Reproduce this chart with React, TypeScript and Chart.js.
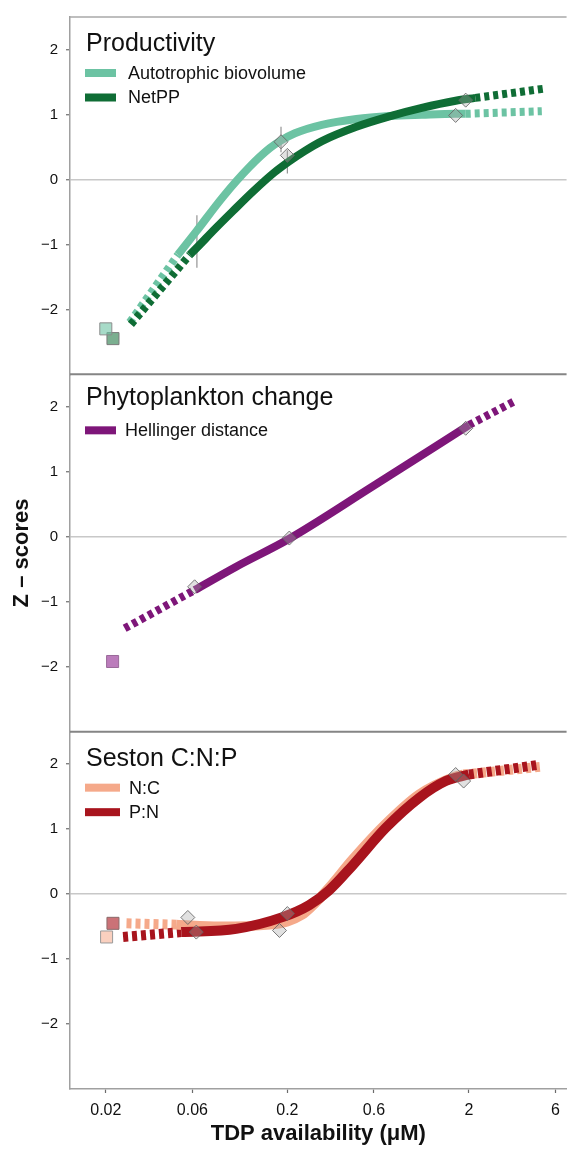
import { useEffect, useRef } from 'react';
import { Chart, registerables } from 'chart.js';

Chart.register(...registerables);

type Pt = [number, number];
type Bar = [number, number, number];

// Axes
const X_TICKS = [0.02, 0.06, 0.2, 0.6, 2, 6];
const Y_TICKS = [-2, -1, 0, 1, 2];
const X_MIN = 0.0127;
const X_MAX = 6.9;
const Y_MIN = -3;
const Y_MAX = 2.5;
const X_TITLE = 'TDP availability (μM)';
const Y_TITLE = 'Z – scores';

// Panel headings and legend labels
const PANEL_TITLES = ['Productivity', 'Phytoplankton change', 'Seston C:N:P'];
const PRODUCTIVITY_LABELS = ['Autotrophic biovolume', 'NetPP'];
const PHYTO_LABELS = ['Hellinger distance'];
const SESTON_LABELS = ['N:C', 'P:N'];

// Productivity: autotrophic biovolume
const autotrophicFit: Pt[] = [
  [0.0499, -1.16], [0.063, -0.8], [0.0883, -0.27], [0.1236, 0.19], [0.16, 0.48],
  [0.185, 0.6], [0.22, 0.71], [0.31, 0.84], [0.48, 0.93], [0.73, 0.975],
  [1.1, 0.995], [1.69, 1.01], [1.92, 1.01],
];
const autotrophicLow: Pt[] = [[0.0271, -2.2], [0.0499, -1.16]];
const autotrophicHigh: Pt[] = [[1.92, 1.01], [5.04, 1.05]];
const autotrophicTreat: Pt[] = [[0.1845, 0.58], [1.69, 0.985]];
const autotrophicControl: Pt[] = [[0.02, -2.3]];

// Productivity: net primary production
const netppFit: Pt[] = [
  [0.058, -1.16], [0.0635, -1.05], [0.08, -0.76], [0.1, -0.49], [0.13, -0.18],
  [0.17, 0.11], [0.205, 0.28], [0.25, 0.44], [0.31, 0.59], [0.48, 0.81],
  [0.73, 0.97], [1.1, 1.1], [1.69, 1.21], [2.17, 1.255],
];
const netppLow: Pt[] = [[0.0275, -2.23], [0.058, -1.16]];
const netppHigh: Pt[] = [[2.17, 1.255], [5.3, 1.4]];
const netppTreat: Pt[] = [[0.2, 0.37], [1.92, 1.22]];
const netppControl: Pt[] = [[0.0219, -2.45]];

// Productivity error bars: [x, low, high]
const productivityBars: Bar[] = [[0.0635, -1.36, -0.55], [0.1845, 0.42, 0.81], [0.2, 0.09, 0.45]];

// Phytoplankton change: Hellinger distance
const hellingerFit: Pt[] = [[0.0617, -0.82], [0.1045, -0.46], [0.205, -0.03], [0.564, 0.74], [2.0, 1.72]];
const hellingerLow: Pt[] = [[0.0254, -1.41], [0.0617, -0.82]];
const hellingerHigh: Pt[] = [[2.0, 1.72], [3.53, 2.08]];
const hellingerTreat: Pt[] = [[0.0617, -0.77], [0.205, -0.02], [1.92, 1.67]];
const hellingerControl: Pt[] = [[0.0218, -1.92]];

// Seston C:N:P: N:C
const ncFit: Pt[] = [
  [0.0488, -0.47], [0.0845, -0.5], [0.159, -0.47], [0.2, -0.42], [0.24, -0.32],
  [0.27, -0.2], [0.34, 0.1], [0.457, 0.53], [0.697, 1.08], [1.062, 1.53],
  [1.69, 1.81], [1.86, 1.84],
];
const ncLow: Pt[] = [[0.026, -0.45], [0.0488, -0.47]];
const ncHigh: Pt[] = [[1.86, 1.84], [5.0, 1.96]];
const ncTreat: Pt[] = [[0.0566, -0.36], [0.181, -0.56], [1.69, 1.84]];
const ncControl: Pt[] = [[0.0202, -0.66]];

// Seston C:N:P: P:N
const pnFit: Pt[] = [
  [0.0521, -0.585], [0.1045, -0.535], [0.188, -0.355], [0.264, -0.17], [0.34, 0.06],
  [0.457, 0.44], [0.697, 1.02], [1.062, 1.48], [1.49, 1.74], [2.0, 1.84],
];
const pnLow: Pt[] = [[0.0249, -0.66], [0.0521, -0.585]];
const pnHigh: Pt[] = [[2.0, 1.84], [4.85, 1.99]];
const pnTreat: Pt[] = [[0.063, -0.585], [0.2, -0.3], [1.87, 1.74]];
const pnControl: Pt[] = [[0.0219, -0.45]];

const FONT = '"Liberation Sans", Arial, Helvetica, sans-serif';
const INK = '#111111';

const COLOR = {
  autotrophic: '#6cc3a3',
  netpp: '#0f6d35',
  hellinger: '#7e1679',
  nc: '#f5a98a',
  pn: '#a8141d',
};

const pts = (a: Pt[]) => a.map(([x, y]) => ({ x, y }));

const fitLine = (data: Pt[], color: string, yAxisID: string, width: number, order: number) => ({
  data: pts(data),
  borderColor: color,
  backgroundColor: color,
  borderWidth: width,
  borderCapStyle: 'butt',
  pointRadius: 0,
  cubicInterpolationMode: 'monotone',
  fill: false,
  yAxisID,
  order,
});

const dashLine = (data: Pt[], color: string, yAxisID: string, width: number, order: number) => ({
  data: pts(data),
  borderColor: color,
  backgroundColor: color,
  borderWidth: width,
  borderDash: [5, 4],
  borderCapStyle: 'butt',
  pointRadius: 0,
  tension: 0,
  fill: false,
  yAxisID,
  order,
});

const treatMarks = (data: Pt[], yAxisID: string, order: number) => ({
  data: pts(data),
  showLine: false,
  pointStyle: 'rectRot',
  pointRadius: 7,
  pointBackgroundColor: 'rgba(170,170,170,0.35)',
  pointBorderColor: 'rgba(100,100,100,0.85)',
  pointBorderWidth: 1,
  yAxisID,
  order,
});

const controlMarks = (data: Pt[], fill: string, stroke: string, yAxisID: string, order: number) => ({
  data: pts(data),
  showLine: false,
  pointStyle: 'rect',
  pointRadius: 8.5,
  pointBackgroundColor: fill,
  pointBorderColor: stroke,
  pointBorderWidth: 1,
  yAxisID,
  order,
});

const errorBars = (bars: Bar[], yAxisID: string, order: number) => ({
  data: bars.flatMap(([x, lo, hi]) => [{ x, y: lo }, { x, y: hi }, { x, y: null }]),
  borderColor: 'rgba(120,120,120,0.8)',
  borderWidth: 1.2,
  pointRadius: 0,
  spanGaps: false,
  fill: false,
  yAxisID,
  order,
});

const LEGENDS = [
  [
    { label: PRODUCTIVITY_LABELS[0], color: COLOR.autotrophic },
    { label: PRODUCTIVITY_LABELS[1], color: COLOR.netpp },
  ],
  [{ label: PHYTO_LABELS[0], color: COLOR.hellinger }],
  [
    { label: SESTON_LABELS[0], color: COLOR.nc },
    { label: SESTON_LABELS[1], color: COLOR.pn },
  ],
];

// Per-panel placement of heading and legend rows
const PANEL_LAYOUT = [
  { titleDy: 34, swatchW: 31, textX: 128 },
  { titleDy: 31, swatchW: 31, textX: 125 },
  { titleDy: 34, swatchW: 35, textX: 129 },
];

const PANEL_AXES = ['y1', 'y2', 'y3'];

const panelDecor = {
  id: 'panelDecor',
  afterDraw(chart: any) {
    const { ctx, chartArea } = chart;
    const hline = (y: number, color: string, w: number) => {
      ctx.beginPath();
      ctx.strokeStyle = color;
      ctx.lineWidth = w;
      ctx.moveTo(chartArea.left, y);
      ctx.lineTo(chartArea.right, y);
      ctx.stroke();
    };
    ctx.save();
    hline(chartArea.top, '#a8a8a8', 1.5);
    hline(chart.scales.y1.bottom, '#858585', 2);
    hline(chart.scales.y2.bottom, '#858585', 2);

    PANEL_AXES.forEach((id, i) => {
      const s = chart.scales[id];
      const lay = PANEL_LAYOUT[i];
      ctx.fillStyle = INK;
      ctx.font = `25px ${FONT}`;
      ctx.textAlign = 'left';
      ctx.textBaseline = 'alphabetic';
      ctx.fillText(PANEL_TITLES[i], chartArea.left + 16, s.top + lay.titleDy);

      LEGENDS[i].forEach((item, j) => {
        const yc = s.top + 56 + j * 24.5;
        ctx.fillStyle = item.color;
        ctx.fillRect(chartArea.left + 15, yc - 4, lay.swatchW, 8);
        ctx.fillStyle = INK;
        ctx.font = `18px ${FONT}`;
        ctx.textBaseline = 'middle';
        ctx.fillText(item.label, lay.textX, yc + 1);
      });
    });
    ctx.restore();
  },
};

const fmtY = (v: number) => (v < 0 ? '\u2212' + Math.abs(v) : String(v));

const yAxis = (i: number) => ({
  type: 'linear',
  position: 'left',
  stack: 'panels',
  stackWeight: 1,
  weight: 3 - i,
  min: Y_MIN,
  max: Y_MAX,
  afterBuildTicks: (s: any) => {
    s.ticks = Y_TICKS.map((value) => ({ value }));
  },
  afterFit: (s: any) => {
    s.width = 70;
  },
  ticks: {
    font: { family: FONT, size: 15 },
    color: INK,
    padding: 8,
    callback: (v: any) => fmtY(Number(v)),
  },
  grid: {
    color: (c: any) => (c.tick && c.tick.value === 0 ? '#c8c8c8' : 'rgba(0,0,0,0)'),
    lineWidth: 1.5,
    tickColor: '#6b6b6b',
    tickLength: 4,
    tickWidth: 1.2,
  },
  border: { display: true, color: '#a0a0a0', width: 1.5 },
  title:
    i === 1
      ? {
          display: true,
          text: Y_TITLE,
          color: INK,
          font: { family: FONT, size: 22, weight: 'bold' },
          padding: { top: 9, bottom: 0 },
        }
      : { display: false },
});

export default function App() {
  const ref = useRef<HTMLCanvasElement | null>(null);

  useEffect(() => {
    document.body.style.margin = '0';
    const canvas = ref.current;
    if (!canvas) return;

    const datasets: any[] = [
      // Productivity
      controlMarks(autotrophicControl, 'rgba(108,195,163,0.6)', '#8c8c8c', 'y1', 0),
      controlMarks(netppControl, 'rgba(15,109,53,0.55)', '#7a7a7a', 'y1', 0),
      treatMarks(autotrophicTreat, 'y1', 1),
      treatMarks(netppTreat, 'y1', 1),
      fitLine(netppFit, COLOR.netpp, 'y1', 8, 2),
      fitLine(autotrophicFit, COLOR.autotrophic, 'y1', 8, 3),
      dashLine(netppLow, COLOR.netpp, 'y1', 8, 4),
      dashLine(netppHigh, COLOR.netpp, 'y1', 8, 4),
      dashLine(autotrophicLow, COLOR.autotrophic, 'y1', 8, 5),
      dashLine(autotrophicHigh, COLOR.autotrophic, 'y1', 8, 5),
      errorBars(productivityBars, 'y1', 6),
      // Phytoplankton change
      controlMarks(hellingerControl, 'rgba(164,80,164,0.75)', '#9a6a9a', 'y2', 0),
      treatMarks(hellingerTreat, 'y2', 1),
      fitLine(hellingerFit, COLOR.hellinger, 'y2', 8, 2),
      dashLine(hellingerLow, COLOR.hellinger, 'y2', 8, 4),
      dashLine(hellingerHigh, COLOR.hellinger, 'y2', 8, 4),
      // Seston C:N:P
      controlMarks(pnControl, 'rgba(168,20,29,0.6)', '#8a6a6a', 'y3', 0),
      controlMarks(ncControl, 'rgba(245,169,138,0.55)', '#9a9a9a', 'y3', 0),
      treatMarks(ncTreat, 'y3', 1),
      treatMarks(pnTreat, 'y3', 1),
      fitLine(pnFit, COLOR.pn, 'y3', 10, 2),
      fitLine(ncFit, COLOR.nc, 'y3', 10, 3),
      dashLine(pnLow, COLOR.pn, 'y3', 10, 4),
      dashLine(pnHigh, COLOR.pn, 'y3', 10, 4),
      dashLine(ncLow, COLOR.nc, 'y3', 10, 5),
      dashLine(ncHigh, COLOR.nc, 'y3', 10, 5),
    ];

    const chart = new Chart(canvas, {
      type: 'line',
      data: { datasets },
      options: {
        responsive: false,
        animation: false,
        devicePixelRatio: 1,
        layout: { autoPadding: false, padding: { top: 13, right: 0, bottom: 0, left: 0 } },
        plugins: { legend: { display: false }, tooltip: { enabled: false } },
        scales: {
          x: {
            type: 'logarithmic',
            position: 'bottom',
            min: X_MIN,
            max: X_MAX,
            afterBuildTicks: (s: any) => {
              s.ticks = X_TICKS.map((value) => ({ value }));
            },
            afterFit: (s: any) => {
              s.height = 60;
            },
            ticks: {
              font: { family: FONT, size: 16 },
              color: INK,
              padding: 8,
              maxRotation: 0,
              autoSkip: false,
              callback: (v: any) => String(v),
            },
            grid: {
              color: 'rgba(0,0,0,0)',
              drawOnChartArea: false,
              tickColor: '#6b6b6b',
              tickLength: 4,
              tickWidth: 1.2,
            },
            border: { display: true, color: '#a0a0a0', width: 1.5 },
            title: {
              display: true,
              text: X_TITLE,
              color: INK,
              font: { family: FONT, size: 22, weight: 'bold' },
              padding: { top: 0, bottom: 2 },
            },
          },
          y1: yAxis(0),
          y2: yAxis(1),
          y3: yAxis(2),
        } as any,
      },
      plugins: [panelDecor],
    } as any);

    return () => chart.destroy();
  }, []);

  return (
    <div style={{ width: 568, height: 1149, background: '#ffffff' }}>
      <canvas ref={ref} width={568} height={1149} style={{ display: 'block' }} />
    </div>
  );
}
